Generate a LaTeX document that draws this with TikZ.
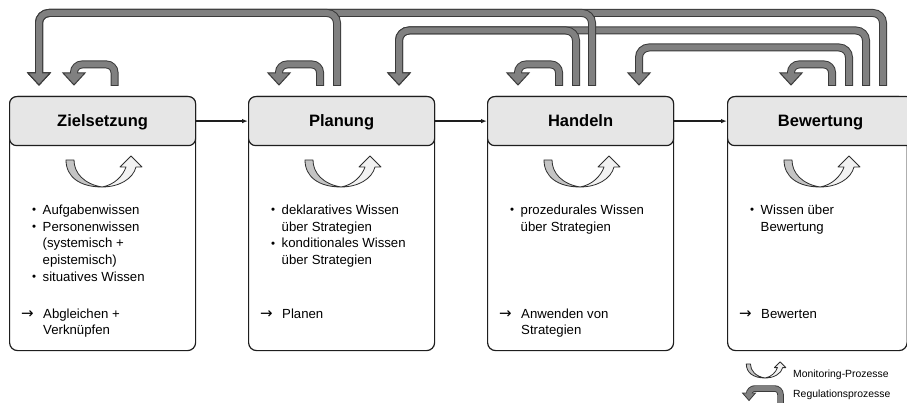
\documentclass[tikz,border=0pt]{standalone}
\usepackage{fontspec}
\setmainfont{Liberation Sans}
\newfontfamily\arrowfont{DejaVu Sans}
\usetikzlibrary{arrows.meta}

\definecolor{edgecol}{HTML}{1E1E1E}
\definecolor{headfill}{HTML}{E6E6E6}
\definecolor{regfill}{HTML}{808080}
\definecolor{regline}{HTML}{3A3A3A}
\definecolor{monline}{HTML}{2E2E2E}
\definecolor{mondark}{HTML}{C4C4C4}
\definecolor{monlight}{HTML}{F2F2F2}

\newcommand\titlefont{\fontsize{16.5}{20}\selectfont\bfseries}
\newcommand\listfont{\fontsize{13.2}{16.7}\selectfont}
\newcommand\legfont{\fontsize{10.4}{12}\selectfont}
\newcommand\bul{\makebox[10.5pt][l]{\raisebox{0.5pt}{\fontsize{11.5}{11.5}\selectfont •}}}
\newcommand\ind{\hspace*{10.5pt}}
\newcommand\res{\makebox[22pt][l]{{\arrowfont\fontsize{15}{15}\selectfont →}}}
\newcommand\resind{\hspace*{22pt}}

% feedback arrow: [corner radius] source port, height of the run, head base
\newcommand\regarrow[4][10]{%
  \draw[regedge, rounded corners=#1] (#2) -- (#2 |- 0,#3) -- (#4 |- 0,#3) -- (#4);
  \filldraw[reghead, shift={(#4)}] (-11,0) -- (11,0) -- (0,12) -- cycle;
  \draw[regcore, rounded corners=#1] (#2) -- (#2 |- 0,#3) -- (#4 |- 0,#3) -- (#4);
}

\tikzset{
  stagebody/.style={draw=edgecol, line width=1.2pt, fill=white, rounded corners=8pt,
    minimum width=186pt, minimum height=254pt, anchor=north west, inner sep=0pt},
  stagehead/.style={draw=edgecol, line width=1.2pt, fill=headfill, rounded corners=7pt,
    minimum width=186pt, minimum height=49pt, anchor=north west, inner sep=0pt,
    font=\titlefont, text height=11.8pt, text depth=0pt},
  listtext/.style={anchor=base west, inner sep=0pt, font=\listfont},
  flow/.style={draw=edgecol, line width=1.4pt, -{Latex[length=6pt,width=4.5pt]}},
  regedge/.style={draw=regline, line width=8pt},
  regcore/.style={draw=regfill, line width=6pt, shorten <=1pt, shorten >=-2pt},
  reghead/.style={fill=regfill, draw=regline, line width=1pt, line join=miter},
  monitor/.pic={
    \filldraw[fill=mondark, draw=monline, line width=0.8pt, line join=round]
      (-36,-27) -- (-28,-27) .. controls (-28,-14) and (-18,-3) .. (0,0)
      .. controls (-22,0) and (-36,-10) .. (-36,-27) -- cycle;
    \filldraw[fill=monlight, draw=monline, line width=0.8pt, line join=round]
      (0,0) .. controls (17,0) and (31,-8) .. (34,-20) -- (40,-20) -- (29,-31)
      -- (18,-20) -- (24,-20) .. controls (21,-11) and (12,-2) .. (0,0) -- cycle;
  }
}

\begin{document}
\begin{tikzpicture}[x=1pt, y=-1pt]
\useasboundingbox (0,0) rectangle (907,403);

% stages
\node[stagebody] (zb) at (9,96) {};
\node[stagehead] (z) at (9,96) {Zielsetzung};
\node[stagebody] (pb) at (248,96) {};
\node[stagehead] (p) at (248,96) {Planung};
\node[stagebody] (hb) at (487,96) {};
\node[stagehead] (h) at (487,96) {Handeln};
\node[stagebody, minimum width=179.5pt] (bb) at (727,96) {};
\node[stagehead, minimum width=179.5pt, text width=186pt, align=center] (b) at (727,96) {Bewertung};

% sequence
\draw[flow] (z.east) -- (p.west);
\draw[flow] (p.east) -- (h.west);
\draw[flow] (h.east) -- (b.west);

% monitoring symbols
\pic at (102,187) {monitor};
\pic at (341,187) {monitor};
\pic at (580,187) {monitor};
\pic at (820,187) {monitor};

% knowledge and activities
\node[listtext] (zk) at (32,214.5) {\begin{tabular}[t]{@{}l@{}}
  \bul Aufgabenwissen\\ \bul Personenwissen\\ \ind(systemisch +\\
  \ind epistemisch)\\ \bul situatives Wissen\end{tabular}};
\node[listtext] (za) at (21,318) {\begin{tabular}[t]{@{}l@{}}
  \res Abgleichen +\\ \resind Verknüpfen\end{tabular}};

\node[listtext] (pk) at (271,214.5) {\begin{tabular}[t]{@{}l@{}}
  \bul deklaratives Wissen\\ \ind über Strategien\\
  \bul konditionales Wissen\\ \ind über Strategien\end{tabular}};
\node[listtext] (pa) at (260,318) {\begin{tabular}[t]{@{}l@{}}
  \res Planen\end{tabular}};

\node[listtext] (hk) at (510,214.5) {\begin{tabular}[t]{@{}l@{}}
  \bul prozedurales Wissen\\ \ind über Strategien\end{tabular}};
\node[listtext] (ha) at (499,318) {\begin{tabular}[t]{@{}l@{}}
  \res Anwenden von\\ \resind Strategien\end{tabular}};

\node[listtext] (bk) at (750,214.5) {\begin{tabular}[t]{@{}l@{}}
  \bul Wissen über\\ \ind Bewertung\end{tabular}};
\node[listtext] (ba) at (739,318) {\begin{tabular}[t]{@{}l@{}}
  \res Bewerten\end{tabular}};

% ports of the regulation arrows
\coordinate (zs)  at (114.5,86);
\coordinate (ps)  at (320,86);
\coordinate (po1) at (337,86);
\coordinate (hs)  at (559,86);
\coordinate (ho2) at (576,86);
\coordinate (ho1) at (592,86);
\coordinate (bs)  at (832,86);
\coordinate (bo3) at (849,86);
\coordinate (bo2) at (866,86);
\coordinate (bo1) at (883,86);
\coordinate (zi1) at (39,73);
\coordinate (zis) at (74,73);
\coordinate (pi2) at (399,73);
\coordinate (pis) at (279,73);
\coordinate (hi3) at (639,73);
\coordinate (his) at (518,73);
\coordinate (bis) at (791,73);

% regulation arrows
\regarrow{bo1}{13}{zi1}
\regarrow{bo2}{30.5}{pi2}
\regarrow{bo3}{47.5}{hi3}
\regarrow{ho1}{13}{zi1}
\regarrow{ho2}{30.5}{pi2}
\regarrow{po1}{13}{zi1}
\regarrow[8]{zs}{64.5}{zis}
\regarrow[8]{ps}{64.5}{pis}
\regarrow[8]{hs}{64.5}{his}
\regarrow[8]{bs}{64.5}{bis}

% legend
\pic[scale=0.52] at (765,378) {monitor};
\node[anchor=base west, inner sep=0pt, font=\legfont] (lm) at (793,377) {Monitoring-Prozesse};
\coordinate (ls) at (780.5,404);
\coordinate (lt) at (749,393);
\draw[draw=regline, line width=6.5pt, rounded corners=6] (ls) -- (ls |- 0,388.5) -- (lt |- 0,388.5) -- (lt);
\filldraw[reghead, line width=0.8pt, shift={(lt)}] (-6.5,0) -- (6.5,0) -- (0,7.5) -- cycle;
\draw[draw=regfill, line width=4.7pt, rounded corners=6, shorten >=-1.5pt] (ls) -- (ls |- 0,388.5) -- (lt |- 0,388.5) -- (lt);
\node[anchor=base west, inner sep=0pt, font=\legfont] (lr) at (793,397) {Regulationsprozesse};
\end{tikzpicture}
\end{document}
